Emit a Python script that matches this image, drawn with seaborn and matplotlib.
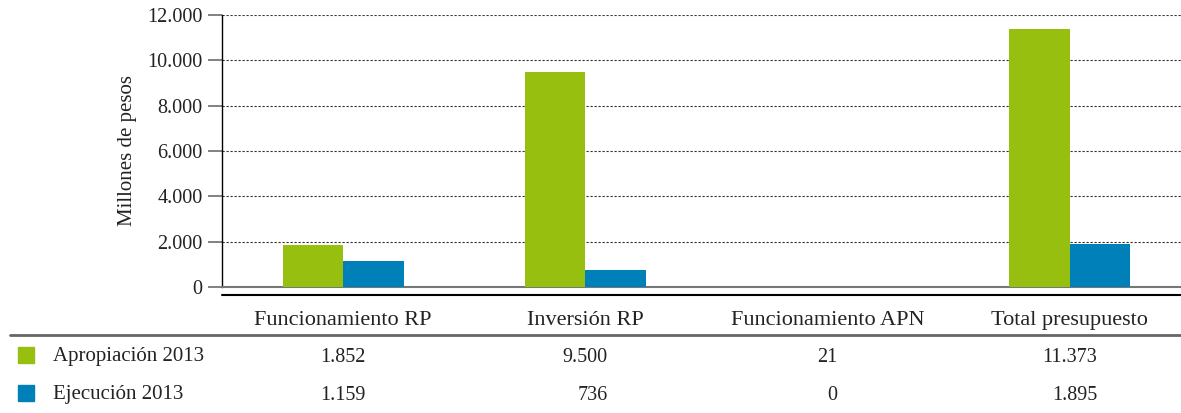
import seaborn as sns
import matplotlib.pyplot as plt
import pandas as pd
from matplotlib.lines import Line2D
from matplotlib.patches import Rectangle
from matplotlib.ticker import FuncFormatter

# datos
categorias = ["Funcionamiento RP", "Inversión RP", "Funcionamiento APN", "Total presupuesto"]
series = ["Apropiación 2013", "Ejecución 2013"]
apropiacion = [1852, 9500, 21, 11373]
ejecucion = [1159, 736, 0, 1895]
colores = ["#97bf0f", "#0080b9"]

df = pd.DataFrame({
    "categoria": categorias * 2,
    "serie": [series[0]] * 4 + [series[1]] * 4,
    "valor": apropiacion + ejecucion,
})

def miles(v):
    return f"{v:,.0f}".replace(",", ".")

sns.set_theme(style="white")
plt.rcParams["font.family"] = ["Liberation Serif", "DejaVu Serif"]
fs = 14.5

fig = plt.figure(figsize=(11.81, 4.13), dpi=100)
ax = fig.add_axes([222 / 1181, 126 / 413, 969 / 1181, 272 / 413])

sns.barplot(data=df, x="categoria", y="valor", hue="serie", palette=colores,
            width=0.5, gap=0, saturation=1, legend=False, ax=ax, zorder=5,
            linewidth=0)

ax.set_ylim(0, 12000)
ax.set_xlim(-0.5, 3.5)
ax.set_yticks(range(0, 12001, 2000))
ax.yaxis.set_major_formatter(FuncFormatter(lambda v, p: miles(v)))
ax.set_xlabel("")
ax.set_ylabel("Millones de pesos", fontsize=15, color="#222222", labelpad=7)

ax.yaxis.grid(True, color="#333333", linestyle=(0, (2, 1.6)), linewidth=0.8)
ax.set_axisbelow(True)
for s in ["top", "right"]:
    ax.spines[s].set_visible(False)
ax.spines["left"].set_color("black")
ax.spines["left"].set_linewidth(1.0)
ax.spines["bottom"].set_color("#777777")
ax.spines["bottom"].set_linewidth(1.5)
ax.spines["bottom"].set_zorder(4)

ax.tick_params(axis="y", direction="out", length=10, width=1.3, color="#777777",
               labelsize=fs, labelcolor="#222222", pad=4, left=True)
ax.tick_params(axis="x", length=0, labelsize=16, labelcolor="#222222", pad=17)

# lineas de la tabla
fig.add_artist(Line2D([222 / 1181, 1], [1 - 295 / 413] * 2, color="black", lw=1.5))
fig.add_artist(Line2D([10 / 1181, 1], [1 - 335 / 413] * 2, color="#666666", lw=2))

# filas de la tabla
filas_y = [1 - 357 / 413, 1 - 395 / 413]
fig.canvas.draw()
for i, (nombre, vals) in enumerate(zip(series, [apropiacion, ejecucion])):
    fig.add_artist(Rectangle((18 / 1181, 1 - (355 + 38 * i + 8) / 413), 16 / 1181, 16 / 413,
                             color=colores[i], transform=fig.transFigure))
    fig.text(53 / 1181, filas_y[i], nombre, fontsize=15, color="#222222",
             va="center", ha="left")

# valores: primera fila centrada, segunda alineada a la derecha con la primera
rend = fig.canvas.get_renderer()
for j in range(len(categorias)):
    xc = ax.transData.transform((j, 0))[0] / fig.bbox.width
    t = fig.text(xc, filas_y[0], miles(apropiacion[j]), fontsize=fs, color="#222222",
                 ha="center", va="center")
    bb = t.get_window_extent(rend)
    fig.text(bb.x1 / fig.bbox.width, filas_y[1], miles(ejecucion[j]), fontsize=fs,
             color="#222222", ha="right", va="center")

fig.savefig("out.png", dpi=100)
